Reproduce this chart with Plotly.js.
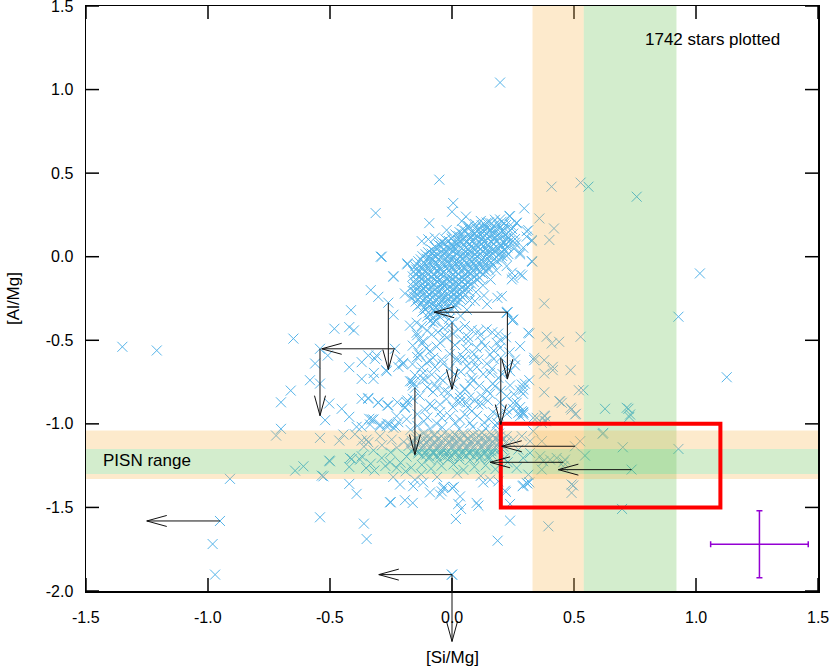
<!DOCTYPE html>
<html>
<head>
<meta charset="utf-8">
<script src="https://cdn.plot.ly/plotly-3.0.1.min.js"></script>
<style>html,body{margin:0;padding:0;background:#fff;}#chart{width:830px;height:667px;}</style>
</head>
<body>
<div id="chart"></div>
<script>
// ---------------- DATA ----------------
const xTickVals = [-1.5, -1.0, -0.5, 0.0, 0.5, 1.0, 1.5];
const xTickText = ['-1.5', '-1.0', '-0.5', '0.0', '0.5', '1.0', '1.5'];
const yTickVals = [-2.0, -1.5, -1.0, -0.5, 0.0, 0.5, 1.0, 1.5];
const yTickText = ['-2.0', '-1.5', '-1.0', '-0.5', '0.0', '0.5', '1.0', '1.5'];
const xLabel = '[Si/Mg]';
const yLabel = '[Al/Mg]';
const countLabel = '1742 stars plotted';
const bandLabel = 'PISN range';

// main [Al/Mg] ~ 0 clump
const coreStars = [
 [0.118,0.214],[0.151,0.205],[0.176,0.221],[0.203,0.209],
 [0.068,0.183],[0.097,0.176],[0.122,0.188],[0.143,0.172],[0.171,0.184],[0.196,0.177],[0.221,0.189],
 [0.031,0.147],[0.054,0.156],[0.083,0.144],[0.104,0.153],[0.132,0.149],[0.158,0.157],[0.179,0.143],[0.207,0.152],[0.232,0.146],
 [0.002,0.118],[0.027,0.124],[0.048,0.113],[0.076,0.121],[0.101,0.127],[0.124,0.116],[0.152,0.122],[0.173,0.114],[0.199,0.126],[0.226,0.117],
 [-0.041,0.088],[-0.013,0.094],[0.011,0.085],[0.037,0.092],[0.058,0.087],[0.086,0.096],[0.112,0.083],[0.133,0.091],[0.162,0.089],[0.184,0.095],[0.211,0.084],[0.236,0.092],
 [-0.068,0.057],[-0.046,0.064],[-0.021,0.055],[0.006,0.061],[0.028,0.066],[0.057,0.054],[0.079,0.062],[0.106,0.058],[0.128,0.065],[0.157,0.053],[0.181,0.060],[0.203,0.067],[0.227,0.056],
 [-0.098,0.027],[-0.076,0.034],[-0.049,0.025],[-0.026,0.031],[0.002,0.036],[0.024,0.024],[0.052,0.030],[0.074,0.035],[0.101,0.026],[0.127,0.033],[0.148,0.028],[0.176,0.037],[0.198,0.025],[0.219,0.032],
 [-0.121,0.003],[-0.094,-0.004],[-0.071,0.006],[-0.043,-0.002],[-0.019,0.004],[0.006,-0.005],[0.031,0.002],[0.054,0.007],[0.082,-0.003],[0.104,0.003],[0.131,-0.006],[0.153,0.005],[0.182,-0.001],[0.206,0.004],
 [-0.138,-0.027],[-0.116,-0.034],[-0.088,-0.025],[-0.066,-0.031],[-0.039,-0.036],[-0.016,-0.024],[0.012,-0.032],[0.034,-0.027],[0.061,-0.035],[0.083,-0.026],[0.112,-0.031],[0.134,-0.024],[0.161,-0.033],[0.186,-0.028],
 [-0.151,-0.057],[-0.124,-0.064],[-0.101,-0.055],[-0.074,-0.062],[-0.052,-0.066],[-0.024,-0.054],[0.001,-0.061],[0.026,-0.058],[0.049,-0.064],[0.076,-0.056],[0.099,-0.062],[0.127,-0.059],[0.148,-0.065],
 [-0.158,-0.087],[-0.136,-0.094],[-0.109,-0.085],[-0.086,-0.092],[-0.058,-0.088],[-0.036,-0.096],[-0.011,-0.084],[0.016,-0.091],[0.038,-0.087],[0.066,-0.095],[0.088,-0.086],[0.116,-0.092],[0.139,-0.088],
 [-0.161,-0.118],[-0.134,-0.124],[-0.112,-0.115],[-0.084,-0.122],[-0.061,-0.127],[-0.034,-0.116],[-0.008,-0.123],[0.014,-0.118],[0.042,-0.126],[0.064,-0.114],[0.091,-0.121],[0.113,-0.127],
 [-0.157,-0.148],[-0.137,-0.155],[-0.108,-0.146],[-0.087,-0.153],[-0.059,-0.149],[-0.036,-0.156],[-0.009,-0.144],[0.017,-0.152],[0.039,-0.147],[0.067,-0.155],[0.089,-0.151],
 [-0.162,-0.177],[-0.133,-0.184],[-0.111,-0.176],[-0.083,-0.183],[-0.062,-0.187],[-0.033,-0.175],[-0.011,-0.182],[0.016,-0.178],[0.041,-0.186],[0.064,-0.179],
 [-0.154,-0.208],[-0.128,-0.214],[-0.106,-0.205],[-0.079,-0.213],[-0.056,-0.217],[-0.028,-0.206],[-0.004,-0.212],[0.021,-0.208],[0.046,-0.215],[0.069,-0.207],
 [-0.156,-0.238],[-0.131,-0.245],[-0.103,-0.236],[-0.081,-0.243],[-0.054,-0.247],[-0.031,-0.235],[-0.006,-0.242],[0.019,-0.238],[0.044,-0.244],
 [-0.149,-0.268],[-0.126,-0.275],[-0.098,-0.266],[-0.076,-0.273],[-0.049,-0.277],[-0.026,-0.265],[0.001,-0.272],[0.024,-0.268],
 [-0.141,-0.298],[-0.114,-0.305],[-0.092,-0.296],[-0.064,-0.303],[-0.041,-0.307],[-0.014,-0.295],[0.009,-0.302],
 [-0.121,-0.328],[-0.096,-0.335],[-0.069,-0.326],[-0.046,-0.333],[-0.019,-0.337],
 [-0.101,-0.358],[-0.074,-0.365],[-0.052,-0.356],[-0.068,-0.388],
 [0.098,-0.212],[0.127,-0.171],[0.158,-0.137],[0.181,-0.082],[0.144,-0.284],[0.061,-0.318],[0.035,-0.355],[-0.012,-0.372],[0.072,-0.262]
];
// second (interleaved) part of the same clump
const coreStars2 = [
 [0.095,0.196],[0.135,0.192],[0.163,0.199],[0.188,0.193],[0.214,0.198],[0.240,0.191],
 [0.044,0.164],[0.069,0.168],[0.110,0.162],[0.132,0.167],[0.157,0.163],[0.183,0.169],[0.209,0.161],[0.246,0.166],
 [0.014,0.133],[0.041,0.138],[0.066,0.131],[0.091,0.136],[0.117,0.134],[0.141,0.139],[0.166,0.132],[0.193,0.137],[0.219,0.133],[0.251,0.138],
 [-0.027,0.104],[-0.002,0.108],[0.024,0.101],[0.047,0.106],[0.072,0.103],[0.098,0.109],[0.121,0.102],[0.147,0.107],[0.172,0.104],[0.197,0.108],[0.223,0.101],[0.258,0.106],
 [-0.056,0.074],[-0.029,0.078],[-0.004,0.072],[0.021,0.077],[0.046,0.073],[0.072,0.079],[0.097,0.071],[0.121,0.076],[0.146,0.074],[0.171,0.078],[0.197,0.072],[0.222,0.077],[0.262,0.073],
 [-0.084,0.043],[-0.061,0.048],[-0.036,0.042],[-0.009,0.047],[0.016,0.044],[0.041,0.049],[0.066,0.041],[0.092,0.046],[0.116,0.043],[0.141,0.048],[0.166,0.042],[0.192,0.047],[0.216,0.044],[0.254,0.048],
 [-0.108,0.014],[-0.083,0.018],[-0.058,0.012],[-0.033,0.017],[-0.008,0.013],[0.017,0.019],[0.043,0.011],[0.068,0.016],[0.092,0.014],[0.117,0.018],[0.142,0.012],[0.167,0.017],[0.193,0.013],[0.231,0.016],
 [-0.128,-0.016],[-0.103,-0.012],[-0.079,-0.018],[-0.054,-0.013],[-0.029,-0.017],[-0.004,-0.011],[0.021,-0.019],[0.046,-0.014],[0.071,-0.016],[0.096,-0.012],[0.121,-0.018],[0.147,-0.013],[0.172,-0.017],[0.203,-0.012],
 [-0.143,-0.046],[-0.113,-0.042],[-0.088,-0.048],[-0.063,-0.043],[-0.038,-0.047],[-0.012,-0.041],[0.013,-0.049],[0.038,-0.044],[0.063,-0.046],[0.088,-0.042],[0.113,-0.048],[0.138,-0.043],[0.166,-0.047],
 [-0.147,-0.076],[-0.122,-0.072],[-0.097,-0.078],[-0.072,-0.073],[-0.047,-0.077],[-0.022,-0.071],[0.003,-0.079],[0.028,-0.074],[0.053,-0.076],[0.078,-0.072],[0.103,-0.078],[0.128,-0.073],[0.151,-0.077],
 [-0.148,-0.106],[-0.123,-0.102],[-0.098,-0.108],[-0.073,-0.103],[-0.048,-0.107],[-0.023,-0.101],[0.002,-0.109],[0.027,-0.104],[0.052,-0.106],[0.077,-0.102],[0.102,-0.108],[0.127,-0.103],
 [-0.149,-0.136],[-0.124,-0.132],[-0.099,-0.138],[-0.074,-0.133],[-0.049,-0.137],[-0.023,-0.131],[0.002,-0.139],[0.027,-0.134],[0.052,-0.136],[0.077,-0.132],[0.104,-0.138],
 [-0.148,-0.166],[-0.123,-0.162],[-0.098,-0.168],[-0.073,-0.163],[-0.048,-0.167],[-0.023,-0.161],[0.003,-0.169],[0.028,-0.164],[0.053,-0.166],[0.079,-0.162],
 [-0.143,-0.196],[-0.118,-0.192],[-0.093,-0.198],[-0.068,-0.193],[-0.043,-0.197],[-0.018,-0.191],[0.008,-0.199],[0.033,-0.194],[0.057,-0.196],
 [-0.143,-0.226],[-0.118,-0.222],[-0.093,-0.228],[-0.068,-0.223],[-0.043,-0.227],[-0.018,-0.221],[0.007,-0.229],[0.032,-0.224],[0.056,-0.226],
 [-0.139,-0.256],[-0.114,-0.252],[-0.089,-0.258],[-0.064,-0.253],[-0.039,-0.257],[-0.014,-0.251],[0.011,-0.259],[0.034,-0.254],
 [-0.128,-0.286],[-0.103,-0.282],[-0.078,-0.288],[-0.053,-0.283],[-0.028,-0.287],[-0.003,-0.281],[0.018,-0.289],
 [-0.109,-0.316],[-0.083,-0.312],[-0.058,-0.318],[-0.033,-0.313],[-0.008,-0.317],
 [-0.088,-0.346],[-0.063,-0.342],[-0.038,-0.348]
];

// Al-poor clump near [Al/Mg] ~ -1.15
const bandStars = [
 [-0.118,-1.058],[-0.072,-1.064],[-0.031,-1.055],[0.012,-1.062],[0.046,-1.057],[0.089,-1.065],[0.124,-1.054],[0.161,-1.061],[0.193,-1.058],
 [-0.148,-1.088],[-0.116,-1.094],[-0.087,-1.086],[-0.058,-1.093],[-0.027,-1.097],[0.004,-1.085],[0.033,-1.092],[0.064,-1.088],[0.092,-1.095],[0.121,-1.084],[0.153,-1.091],[0.182,-1.087],[0.207,-1.094],
 [-0.163,-1.118],[-0.134,-1.124],[-0.103,-1.115],[-0.074,-1.122],[-0.046,-1.127],[-0.014,-1.116],[0.017,-1.123],[0.046,-1.118],[0.077,-1.126],[0.106,-1.114],[0.137,-1.121],[0.166,-1.127],[0.194,-1.117],
 [-0.152,-1.148],[-0.121,-1.155],[-0.092,-1.146],[-0.061,-1.153],[-0.033,-1.157],[-0.002,-1.145],[0.028,-1.152],[0.057,-1.148],[0.088,-1.156],[0.118,-1.144],[0.147,-1.151],[0.176,-1.157],
 [-0.138,-1.177],[-0.106,-1.184],[-0.077,-1.176],[-0.047,-1.183],[-0.016,-1.187],[0.014,-1.175],[0.043,-1.182],[0.073,-1.178],[0.104,-1.186],[0.133,-1.179],[0.162,-1.184],
 [-0.094,-1.208],[-0.054,-1.214],[-0.012,-1.205],[0.031,-1.213],[0.074,-1.217],[0.113,-1.206],[0.151,-1.212],
 [-0.133,-1.071],[-0.102,-1.076],[-0.072,-1.072],[-0.043,-1.075],[-0.012,-1.071],[0.019,-1.077],[0.048,-1.072],[0.078,-1.074],[0.107,-1.071],[0.138,-1.076],[0.167,-1.073],[0.197,-1.075],
 [-0.165,-1.102],[-0.132,-1.105],[-0.101,-1.101],[-0.073,-1.106],[-0.042,-1.102],[-0.011,-1.104],[0.018,-1.101],[0.049,-1.106],[0.078,-1.103],[0.107,-1.105],[0.138,-1.101],[0.167,-1.104],[0.196,-1.102],[0.223,-1.106],
 [-0.178,-1.132],[-0.148,-1.135],[-0.118,-1.131],[-0.089,-1.136],[-0.058,-1.132],[-0.028,-1.134],[0.002,-1.131],[0.032,-1.136],[0.061,-1.133],[0.091,-1.135],[0.121,-1.131],[0.151,-1.134],[0.181,-1.132],[0.210,-1.136],
 [-0.167,-1.162],[-0.137,-1.165],[-0.106,-1.161],[-0.077,-1.166],[-0.047,-1.162],[-0.017,-1.164],[0.013,-1.161],[0.042,-1.166],[0.073,-1.163],[0.103,-1.165],[0.133,-1.161],[0.162,-1.164],[0.190,-1.162],
 [-0.122,-1.192],[-0.092,-1.195],[-0.062,-1.191],[-0.031,-1.196],[-0.001,-1.192],[0.029,-1.194],[0.058,-1.191],[0.088,-1.196],[0.118,-1.193],[0.148,-1.195],
 [-0.398,-1.062],[-0.361,-1.136],[-0.322,-1.158],[-0.287,-1.128],[-0.251,-1.171],[-0.226,-1.142],[-0.198,-1.108],[-0.186,-1.196],[-0.211,-1.232],[-0.273,-1.252],[-0.318,-1.279],[-0.352,-1.264],
 [-0.190,-1.284],[-0.167,-1.262],[-0.124,-1.245],[-0.086,-1.268],[-0.043,-1.251],[0.006,-1.243],[0.047,-1.276],[0.092,-1.257],[0.138,-1.248],[0.178,-1.271],
 [-0.126,-1.302],[-0.061,-1.318],[0.021,-1.296],[0.118,-1.311],[-0.241,-1.318],
 [-0.170,-1.036],[-0.142,-1.012],[-0.090,-1.028],[-0.040,-1.021],[0.030,-1.031],[0.085,-1.018],[0.137,-1.027],[0.180,-1.012],
 [-0.115,-0.985],[-0.062,-0.998],[0.152,-0.972],[0.185,-0.995],[0.206,-1.152],[0.214,-1.206],[0.228,-1.230]
];

// stars between the two clumps
const midStars = [
 [-0.145,-0.395],[-0.124,-0.415],[-0.145,-0.455],[-0.134,-0.495],[-0.118,-0.505],[-0.138,-0.575],[-0.090,-0.385],[-0.077,-0.395],[-0.083,-0.465],[-0.036,-0.425],
 [-0.022,-0.485],[-0.049,-0.515],[-0.090,-0.565],[-0.077,-0.605],[-0.042,-0.615],[-0.104,-0.635],[-0.118,-0.695],[-0.083,-0.705],[-0.111,-0.735],[-0.049,-0.725],
 [-0.070,-0.765],[0.026,-0.435],[0.053,-0.415],[0.040,-0.495],[0.067,-0.505],[0.019,-0.605],[0.053,-0.615],[0.108,-0.615],[0.074,-0.675],[0.081,-0.725],
 [0.053,-0.795],[0.033,-0.845],[0.094,-0.855],[0.122,-0.835],[0.108,-0.445],[0.142,-0.435],[0.135,-0.535],[0.156,-0.585],[0.101,-0.545],[0.156,-0.695],
 [0.190,-0.725],[0.176,-0.775],[0.142,-0.795],[0.183,-0.515],[0.197,-0.545],
 [-0.143,-0.470],[-0.123,-0.520],[-0.030,-0.470],[0.004,-0.460],[0.066,-0.480],[0.115,-0.470],[0.189,-0.460],[0.200,-0.500],
 [-0.143,-0.600],[-0.131,-0.590],[-0.090,-0.620],[-0.070,-0.660],[-0.037,-0.640],[0.020,-0.620],[0.045,-0.600],[0.086,-0.620],[0.102,-0.660],[0.143,-0.640],[0.164,-0.670],[0.225,-0.660],[0.258,-0.650],
 [-0.119,-0.730],[-0.102,-0.780],[-0.078,-0.810],[-0.037,-0.740],[0.004,-0.760],[0.033,-0.820],[0.053,-0.790],[0.074,-0.760],[0.086,-0.740],[0.168,-0.760],[0.156,-0.820],[0.238,-0.770],[0.299,-0.760],[0.291,-0.820],[0.279,-0.800],
 [-0.160,-0.850],[-0.090,-0.880],[-0.049,-0.930],[0.004,-0.900],[0.033,-0.870],[0.066,-0.900],[0.123,-0.880],[0.168,-0.930],[0.189,-0.950],[0.225,-0.940],[0.250,-0.910],[0.279,-0.900],[0.291,-0.930],
 [-0.111,-0.914],[-0.083,-0.894],[-0.049,-0.884],[-0.042,-0.964],[-0.008,-0.954],[0.019,-0.864],[0.060,-0.874],[0.081,-0.924],[0.033,-0.974],[0.012,-0.994],[0.074,-0.994],[0.108,-0.884],
 [0.224,-0.335],[0.249,-0.380],[0.204,-0.236],[0.258,-0.615],[0.279,-0.535],[0.313,-0.455],[0.251,-0.375],[0.238,-0.685],[0.224,-0.835],[0.265,-0.874],
 [-0.172,-0.412],[-0.102,-0.442],[-0.058,-0.452],[-0.012,-0.412],[0.081,-0.438],[0.165,-0.452],[0.221,-0.482],[-0.161,-0.532],[-0.105,-0.548],[-0.063,-0.538],
 [0.012,-0.528],[0.058,-0.552],[0.122,-0.508],[0.171,-0.562],[0.236,-0.572],[-0.162,-0.642],[-0.125,-0.662],[-0.011,-0.672],[0.036,-0.688],[0.128,-0.702],
 [0.207,-0.702],[-0.152,-0.708],[-0.062,-0.788],[-0.015,-0.812],[0.112,-0.772],[0.201,-0.802],[0.253,-0.822],[-0.132,-0.832],[-0.023,-0.852],[0.071,-0.842],
 [0.147,-0.862],[0.196,-0.872],[-0.142,-0.942],[-0.101,-0.962],[0.052,-0.942],[0.103,-0.952],[0.132,-0.992],[-0.186,-0.972],[0.012,-0.702],[-0.009,-0.582],
 [0.091,-0.582],[0.061,-0.652],[0.171,-0.612],[-0.031,-0.802]
];

// sparse stars
const outerStars = [
 [0.197,1.042],[-0.052,0.461],[0.408,0.419],[0.527,0.443],[0.559,0.419],[0.757,0.359],[1.016,-0.100],[0.928,-0.359],[0.378,-0.280],[0.358,0.229],
 [0.418,0.169],[0.399,0.100],[0.329,-0.030],[0.296,0.289],[0.005,0.321],[0.000,0.269],[-0.093,0.201],[0.235,0.243],[0.265,0.200],[0.224,0.004],
 [0.245,-0.096],[0.288,-0.112],[0.251,-0.126],[0.247,-0.380],[0.317,-0.459],[0.388,-0.479],[0.527,-0.479],
 [0.313,0.159],[0.306,0.120],[0.327,0.100],[0.292,0.054],[0.279,0.014],[0.186,-0.246],[0.131,-0.232],[0.094,-0.266],
 [-0.022,0.159],[-0.124,0.093],[-0.097,0.104],[-0.070,0.114],[-0.183,-0.046],[-0.240,-0.116],[-0.288,0.000],[0.057,0.240],[0.040,0.213],[0.067,0.183],
 [0.142,0.204],[0.197,0.223],[0.238,0.243],[0.265,0.204],[0.306,0.153],[0.327,0.093],[0.258,0.084],[0.279,0.024],[0.224,-0.056],[0.279,-0.106],[0.245,-0.136],[0.327,-0.026],
 [-0.313,0.261],[-0.292,0.000],[-0.240,-0.120],[-0.333,-0.200],[-0.302,-0.240],[-0.240,-0.347],[-0.414,-0.320],[-0.482,-0.431],[-0.421,-0.421],[-0.402,-0.441],
 [-0.650,-0.490],[-0.183,-0.040],[-0.193,-0.220],[-0.169,-0.246],[-0.161,-0.206],
 [-1.351,-0.539],[-1.210,-0.561],[-0.509,-0.591],[-0.561,-0.639],[-0.582,-0.739],[-0.541,-0.759],[-0.661,-0.801],[-0.701,-0.871],[-0.503,-0.878],[-0.520,-0.978],
 [-0.452,-0.910],[-0.421,-0.958],[-0.370,-0.850],[-0.343,-0.850],[-0.302,-0.871],[-0.261,-0.890],[-0.224,-0.871],[-0.183,-0.860],[-0.193,-0.904],[-0.421,-0.661],
 [-0.370,-0.631],[-0.343,-0.591],[-0.316,-0.611],[-0.309,-0.591],[-0.370,-0.731],[-0.322,-0.731],[-0.320,-0.695],[-0.268,-0.685],[-0.213,-0.615],[-0.200,-0.635],
 [-0.220,-0.659],[-0.172,-0.745],[-0.159,-0.755],[-0.391,-1.018],[-0.370,-1.018],[-0.336,-1.004],[-0.322,-0.974],[-0.295,-1.014],[-0.268,-1.014],[-0.220,-0.990],
 [-0.230,-1.018],[-0.721,-1.070],[-0.701,-1.030],[-0.541,-1.084],[-0.462,-1.100],[-0.445,-1.064],[-0.370,-1.100],[-0.343,-1.110],[-0.295,-1.074],[-0.643,-1.280],
 [-0.609,-1.254],[-0.910,-1.329],[-0.503,-1.220],[-0.534,-1.310],[-0.421,-1.258],[-0.411,-1.210],[-0.377,-1.214],[-0.370,-1.194],[-0.333,-1.238],[-0.288,-1.204],
 [-0.421,-1.359],[-0.391,-1.419],[-0.251,-1.469],[-0.213,-1.363],[-0.193,-1.457],[-0.161,-1.473],[-0.159,-1.373],[-0.541,-1.559],[-0.361,-1.597],[-0.350,-1.689],
 [-0.981,-1.719],[-0.971,-1.902],
 [-0.202,-0.645],[-0.270,-0.679],[-0.343,-0.845],[-0.265,-0.890],[-0.193,-0.898],[-0.186,-0.871],[-0.165,-0.745],[-0.161,-0.771],[-0.339,-0.970],[-0.265,-0.998],
 [-0.240,-1.024],[-0.247,-1.094],[-0.418,-1.204],[-0.254,-1.230],[-0.227,-1.263],[-0.500,-1.224],[-0.527,-1.314],
 [-0.302,-0.874],[-0.329,-0.974],[-0.295,-1.004],[-0.254,-1.004],[-0.227,-0.954],[-0.350,-1.094],
 [-0.118,-1.350],[-0.090,-1.410],[-0.049,-1.423],[-0.042,-1.404],[-0.033,-1.377],[0.008,-1.377],[0.026,-1.479],[0.037,-1.509],[0.016,-1.569],[0.108,-1.489],
 [0.128,-1.350],[0.156,-1.334],[0.190,-1.344],[0.217,-1.400],[0.238,-1.479],[0.238,-1.579],[0.187,-1.699],[0.292,-1.369],[0.317,-1.350],[0.395,-1.613],
 [-0.152,-1.334],[0.000,-1.383],[-0.036,-1.383],[0.033,-1.434],[0.101,-1.473],[-0.254,-1.469],
 [1.126,-0.721],[0.627,-0.910],[0.723,-0.910],[0.730,-0.944],[0.617,-1.060],[0.700,-1.140],[0.928,-1.150],[0.525,-1.104],[0.545,-1.190],[0.497,-1.369],
 [0.490,-1.413],[0.697,-1.509],[0.309,-1.357],[0.290,-1.373],[0.221,-1.407],
 [0.337,-0.605],[0.337,-0.619],[0.378,-0.619],[0.413,-0.659],[0.413,-0.679],[0.378,-0.699],[0.486,-0.679],[0.317,-0.739],[0.286,-0.765],[0.292,-0.795],
 [0.378,-0.811],[0.520,-0.799],[0.538,-0.799],[0.440,-0.865],[0.450,-0.874],[0.486,-0.904],[0.508,-0.940],[0.716,-0.904],[0.727,-0.958],[0.378,-0.950],
 [0.385,-0.984],[0.286,-0.924],[0.279,-0.954],[0.409,-0.519],[0.439,-0.509],[0.272,-0.934],[0.292,-0.944],[0.347,-0.964],[0.381,-0.954],[0.368,-0.994],
 [0.333,-1.044],[0.443,-0.865],[0.490,-0.914],[0.504,-0.944],[0.620,-1.054],[0.224,-1.074],[0.251,-1.094],[0.286,-1.074],[0.320,-1.104],[0.368,-1.104],
 [0.272,-1.154],[0.320,-1.174],[0.292,-1.204],[0.361,-1.194],[0.374,-1.224],[0.402,-1.214],[0.429,-1.204],[0.463,-1.214],[0.456,-1.254],[0.368,-1.274],
 [0.313,-1.304],[0.265,-1.264],[0.306,-1.353],[0.490,-1.363],[0.251,-0.874],[0.224,-0.914],[0.292,-0.934],[0.333,-0.964],[0.381,-0.984]
];

// stars with upper limits (arrow direction)
const limitX   = [-0.951, 0.000, 0.000, -0.234, -0.541, -0.261, -0.152, 0.227, 0.227, 0.000, 0.200, 0.504, 0.456, 0.736];
const limitY   = [-1.581, -1.902, -1.902, -0.551, -0.551, -0.275, -0.784, -0.332, -0.332, -0.393, -0.604, -1.134, -1.230, -1.274];
const limitDir = ['left','left','down','left','down','down','down','left','down','down','down','left','left','left'];
const limitLenX = 0.3;   // length of arrow in [Si/Mg]
const limitLenY = 0.4;   // length of arrow in [Al/Mg]

// PISN prediction ranges
const siOrange = [0.33, 0.54];
const siGreen  = [0.54, 0.92];
const alOrange = [[-1.15, -1.04], [-1.33, -1.30]];
const alGreen  = [-1.30, -1.15];
// highlighted region
const boxX = [0.2, 1.1];
const boxY = [-1.5, -1.0];
// typical error
const errX = [1.26], errY = [-1.72], errSiMg = [0.2], errAlMg = [0.2];

// ---------------- BUILD ----------------
const xRange = [-1.5, 1.5], yRange = [-2.0, 1.5];
const M = {l: 86, r: 12, t: 6, b: 76};
const W = 830 - M.l - M.r, H = 667 - M.t - M.b;
const fx = x => (x - xRange[0]) / (xRange[1] - xRange[0]);
const fy = y => (y - yRange[0]) / (yRange[1] - yRange[0]);

const allStars = coreStars.concat(coreStars2, bandStars, midStars, outerStars);
const sx = allStars.map(p => p[0]).concat(limitX);
const sy = allStars.map(p => p[1]).concat(limitY);

const starTrace = {
  type: 'scatter', mode: 'markers', x: sx, y: sy, hoverinfo: 'skip',
  marker: {symbol: 'x-thin', size: 10, color: '#56b4e9', line: {color: '#56b4e9', width: 1}}
};
const errTrace = {
  type: 'scatter', mode: 'markers', x: errX, y: errY, hoverinfo: 'skip',
  marker: {size: 1, color: 'rgba(0,0,0,0)'},
  error_x: {type: 'data', array: errSiMg, visible: true, color: '#9400d3', thickness: 1.5, width: 3},
  error_y: {type: 'data', array: errAlMg, visible: true, color: '#9400d3', thickness: 1.5, width: 3}
};

// inward tick marks on all four sides, drawn as a line trace in data units
const tickLen = 13;
const tdx = tickLen / W * (xRange[1] - xRange[0]);
const tdy = tickLen / H * (yRange[1] - yRange[0]);
const tickXs = [], tickYs = [];
xTickVals.forEach(v => {
  tickXs.push(v, v, null, v, v, null);
  tickYs.push(yRange[0], yRange[0] + tdy, null, yRange[1], yRange[1] - tdy, null);
});
yTickVals.forEach(v => {
  tickXs.push(xRange[0], xRange[0] + tdx, null, xRange[1], xRange[1] - tdx, null);
  tickYs.push(v, v, null, v, v, null);
});
const tickTrace = {
  type: 'scatter', mode: 'lines', x: tickXs, y: tickYs, hoverinfo: 'skip', connectgaps: false,
  line: {color: '#000', width: 1.5}
};

const orangeFill = 'rgba(248,185,85,0.30)';
const greenFill = 'rgba(110,195,90,0.30)';
const shapes = [];
shapes.push({type:'rect', xref:'x', yref:'paper', x0:siOrange[0], x1:siOrange[1], y0:0, y1:1, fillcolor:orangeFill, line:{width:0}, layer:'above'});
shapes.push({type:'rect', xref:'x', yref:'paper', x0:siGreen[0], x1:siGreen[1], y0:0, y1:1, fillcolor:greenFill, line:{width:0}, layer:'above'});
alOrange.forEach(r => shapes.push({type:'rect', xref:'paper', yref:'y', x0:0, x1:1, y0:r[0], y1:r[1], fillcolor:orangeFill, line:{width:0}, layer:'above'}));
shapes.push({type:'rect', xref:'paper', yref:'y', x0:0, x1:1, y0:alGreen[0], y1:alGreen[1], fillcolor:greenFill, line:{width:0}, layer:'above'});
shapes.push({type:'rect', xref:'x', yref:'y', x0:boxX[0], x1:boxX[1], y0:boxY[0], y1:boxY[1], line:{color:'#ff0000', width:4}, fillcolor:'rgba(0,0,0,0)', layer:'above'});

const headLen = 20, headHalf = 5.5;
limitX.forEach((x, i) => {
  const y = limitY[i], d = limitDir[i];
  let x1 = x, y1 = y;
  if (d === 'left') x1 = x - limitLenX; else y1 = y - limitLenY;
  const X0 = fx(x), Y0 = fy(y), X1 = fx(x1), Y1 = fy(y1);
  shapes.push({type:'line', xref:'paper', yref:'paper', x0:X0, y0:Y0, x1:X1, y1:Y1, line:{color:'#111', width:1}, layer:'above'});
  let path;
  if (d === 'left') {
    const bx = X1 + headLen / W, dy = headHalf / H;
    path = 'M' + bx + ',' + (Y1 + dy) + 'L' + X1 + ',' + Y1 + 'L' + bx + ',' + (Y1 - dy);
  } else {
    const by = Y1 + headLen / H, dx = headHalf / W;
    path = 'M' + (X1 - dx) + ',' + by + 'L' + X1 + ',' + Y1 + 'L' + (X1 + dx) + ',' + by;
  }
  shapes.push({type:'path', xref:'paper', yref:'paper', path: path, line:{color:'#111', width:1}, layer:'above'});
});

// x tick labels placed under the axis
const annotations = xTickVals.map((v, i) => ({
  text: xTickText[i], xref: 'x', yref: 'paper', x: v, y: 0, xanchor: 'center', yanchor: 'middle',
  yshift: -26, showarrow: false, font: {size: 16}
}));
annotations.push({text: xLabel, xref: 'paper', yref: 'paper', x: 0.5, y: 0, xanchor: 'center', yanchor: 'middle',
  yshift: -66, showarrow: false, font: {size: 17}});
annotations.push({text: countLabel, xref: 'x', yref: 'y', x: 0.783, y: 1.30, xanchor: 'left', yanchor: 'middle', showarrow: false, font: {size: 17}});
annotations.push({text: bandLabel, xref: 'x', yref: 'y', x: -1.44, y: -1.22, xanchor: 'left', yanchor: 'middle', showarrow: false, font: {size: 17}});

const axisCommon = {
  showline: true, linecolor: '#000', linewidth: 1.5, mirror: true,
  showgrid: false, zeroline: false, tickfont: {size: 16}, ticklabeloverflow: 'allow'
};
const layout = {
  width: 830, height: 667, margin: M, showlegend: false,
  paper_bgcolor: '#fff', plot_bgcolor: '#fff',
  font: {family: 'Liberation Sans, Arial, sans-serif', size: 16, color: '#000'},
  xaxis: Object.assign({}, axisCommon, {range: xRange, tickvals: xTickVals, ticktext: xTickText, showticklabels: false}),
  yaxis: Object.assign({}, axisCommon, {range: yRange, tickvals: yTickVals, ticktext: yTickText,
    ticklabelstandoff: 8,
    title: {text: yLabel, font: {size: 17}, standoff: 22}}),
  shapes: shapes,
  annotations: annotations
};
Plotly.newPlot('chart', [starTrace, errTrace, tickTrace], layout, {staticPlot: true, displayModeBar: false});
</script>
</body>
</html>
